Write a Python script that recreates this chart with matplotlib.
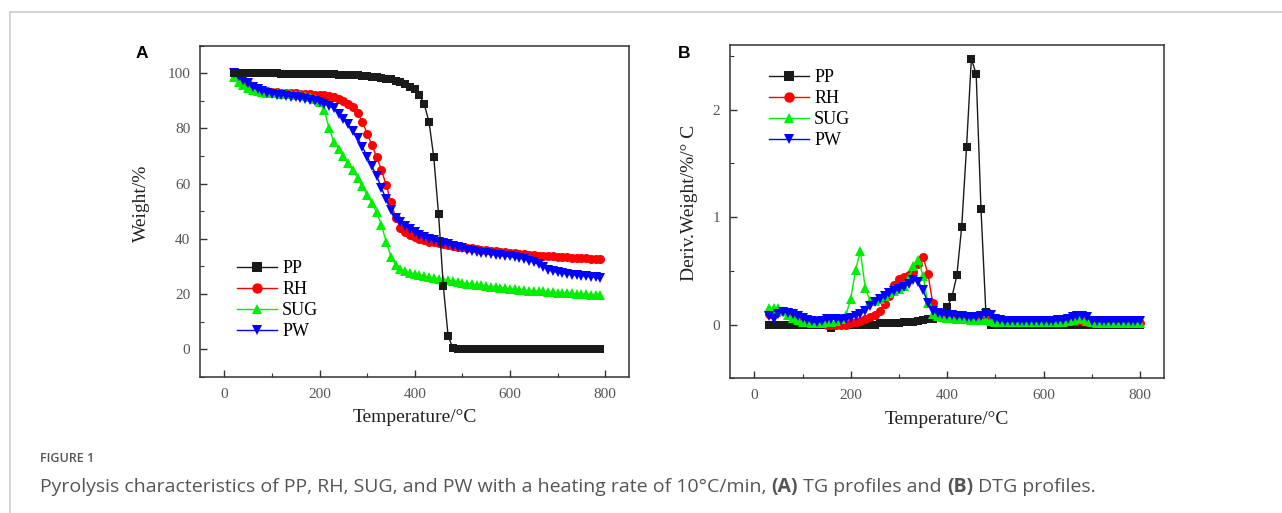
import matplotlib
matplotlib.use("Agg")
import matplotlib.pyplot as plt
from matplotlib.ticker import MultipleLocator
from matplotlib.lines import Line2D

# ---------------- data ----------------
tg_temp = list(range(20, 800, 10))
pp_tg = [100.0, 100.0, 100.0, 100.0, 100.0, 100.0, 100.0, 100.0, 100.0, 100.0,
         99.9, 99.9, 99.9, 99.9, 99.9, 99.8, 99.8, 99.8, 99.7, 99.7,
         99.6, 99.6, 99.5, 99.5, 99.4, 99.3, 99.2, 99.1, 99.0, 98.8,
         98.6, 98.4, 98.1, 97.8, 97.3, 96.7, 96.0, 95.2, 94.2, 92.1,
         88.7, 82.4, 69.5, 49.0, 23.0, 4.9, 0.3, 0.2, 0.2, 0.2,
         0.2, 0.2, 0.2, 0.2, 0.2, 0.2, 0.2, 0.2, 0.2, 0.2,
         0.2, 0.2, 0.2, 0.2, 0.2, 0.2, 0.2, 0.2, 0.2, 0.2,
         0.2, 0.2, 0.2, 0.2, 0.2, 0.2, 0.2, 0.2]
rh_tg = [100.0, 98.6, 97.2, 96.1, 95.2, 94.5, 94.0, 93.6, 93.3, 93.1,
         93.0, 92.9, 92.8, 92.7, 92.6, 92.5, 92.4, 92.3, 92.2, 92.0,
         91.7, 91.3, 90.7, 89.9, 89.0, 87.8, 85.6, 82.5, 78.1, 74.0,
         69.6, 65.0, 59.5, 53.3, 47.6, 44.0, 42.6, 41.4, 40.5, 39.9,
         39.4, 39.0, 38.7, 38.4, 38.1, 37.8, 37.5, 37.2, 37.0, 36.7,
         36.5, 36.3, 36.1, 35.9, 35.7, 35.5, 35.3, 35.1, 34.9, 34.7,
         34.6, 34.4, 34.2, 34.1, 33.9, 33.8, 33.7, 33.6, 33.5, 33.4,
         33.3, 33.2, 33.1, 33.0, 32.9, 32.8, 32.7, 32.6]
sug_tg = [98.5, 96.8, 95.6, 94.7, 94.0, 93.5, 93.2, 93.0, 92.8, 92.7,
          92.6, 92.5, 92.4, 92.3, 92.1, 91.8, 91.4, 90.7, 89.6, 86.6,
          80.2, 75.2, 72.6, 70.0, 67.4, 64.8, 62.0, 59.0, 56.0, 53.0,
          49.6, 45.0, 39.0, 33.5, 30.5, 29.0, 28.2, 27.6, 27.3, 26.9,
          26.5, 26.1, 25.8, 25.5, 25.2, 24.9, 24.6, 24.3, 24.0, 23.7,
          23.5, 23.3, 23.1, 22.9, 22.7, 22.5, 22.3, 22.1, 21.9, 21.7,
          21.5, 21.4, 21.2, 21.1, 21.0, 20.9, 20.7, 20.6, 20.5, 20.4,
          20.3, 20.2, 20.1, 20.0, 19.9, 19.8, 19.8, 19.7]
pw_tg = [100.0, 99.0, 97.6, 96.3, 95.1, 94.2, 93.5, 93.0, 92.6, 92.3,
         92.0, 91.8, 91.5, 91.3, 91.0, 90.7, 90.4, 90.0, 89.6, 89.0,
         88.2, 87.3, 85.4, 83.5, 81.5, 79.2, 76.4, 73.4, 69.8, 66.3,
         62.8, 58.5, 54.4, 50.5, 47.5, 46.0, 44.6, 43.4, 42.4, 41.5,
         40.7, 40.0, 39.4, 38.9, 38.4, 38.0, 37.5, 37.0, 36.5, 36.0,
         35.6, 35.3, 35.0, 34.7, 34.5, 34.3, 34.0, 33.8, 33.6, 33.3,
         33.0, 32.6, 32.1, 31.5, 30.7, 29.8, 28.8, 28.2, 27.8, 27.5,
         27.2, 27.0, 26.8, 26.6, 26.4, 26.2, 26.0, 25.8]

dtg_temp = list(range(30, 810, 10))
pp_dtg = [0.00, 0.00, 0.00, 0.00, 0.00, 0.00, 0.00, 0.00, 0.00, 0.00,
          0.00, 0.00, 0.00, -0.03, 0.00, 0.00, 0.00, 0.00, 0.00, 0.00,
          0.00, 0.00, 0.00, 0.01, 0.01, 0.01, 0.01, 0.01, 0.02, 0.02,
          0.02, 0.03, 0.04, 0.05, 0.05, 0.07, 0.10, 0.16, 0.26, 0.46,
          0.91, 1.65, 2.47, 2.33, 1.07, 0.12, 0.00, 0.00, 0.00, 0.00,
          0.00, 0.00, 0.00, 0.00, 0.00, 0.00, 0.00, 0.00, 0.00, 0.00,
          0.00, 0.00, 0.00, 0.00, 0.00, 0.00, 0.00, 0.00, 0.00, 0.00,
          0.00, 0.00, 0.00, 0.00, 0.00, 0.00, 0.00, 0.00]
rh_dtg = [0.10, 0.10, 0.12, 0.13, 0.11, 0.09, 0.07, 0.05, 0.03, 0.02,
          0.01, 0.01, 0.00, 0.00, 0.00, 0.00, 0.00, 0.01, 0.02, 0.03,
          0.05, 0.07, 0.09, 0.13, 0.19, 0.27, 0.37, 0.42, 0.44, 0.46,
          0.49, 0.56, 0.63, 0.47, 0.20, 0.10, 0.08, 0.07, 0.06, 0.06,
          0.05, 0.05, 0.05, 0.05, 0.04, 0.04, 0.04, 0.04, 0.04, 0.04,
          0.04, 0.04, 0.04, 0.04, 0.04, 0.03, 0.03, 0.03, 0.03, 0.03,
          0.03, 0.03, 0.03, 0.03, 0.03, 0.03, 0.02, 0.02, 0.01, 0.01,
          0.01, 0.01, 0.01, 0.01, 0.01, 0.01, 0.01, 0.01]
sug_dtg = [0.15, 0.15, 0.15, 0.13, 0.09, 0.06, 0.04, 0.02, 0.02, 0.01,
           0.01, 0.01, 0.02, 0.02, 0.03, 0.05, 0.09, 0.24, 0.51, 0.68,
           0.34, 0.22, 0.22, 0.24, 0.27, 0.29, 0.31, 0.33, 0.36, 0.43,
           0.54, 0.60, 0.45, 0.20, 0.10, 0.08, 0.07, 0.06, 0.06, 0.05,
           0.05, 0.05, 0.04, 0.04, 0.04, 0.04, 0.03, 0.02, 0.02, 0.02,
           0.02, 0.02, 0.02, 0.02, 0.02, 0.02, 0.02, 0.02, 0.02, 0.02,
           0.02, 0.02, 0.03, 0.04, 0.05, 0.05, 0.03, 0.02, 0.01, 0.01,
           0.01, 0.01, 0.01, 0.01, 0.01, 0.01, 0.01, 0.01]
pw_dtg = [0.08, 0.05, 0.10, 0.12, 0.11, 0.10, 0.08, 0.06, 0.04, 0.03,
          0.02, 0.03, 0.05, 0.05, 0.05, 0.04, 0.05, 0.06, 0.08, 0.10,
          0.13, 0.17, 0.21, 0.24, 0.27, 0.29, 0.31, 0.33, 0.35, 0.38,
          0.41, 0.40, 0.32, 0.20, 0.13, 0.11, 0.10, 0.09, 0.09, 0.08,
          0.08, 0.07, 0.07, 0.07, 0.08, 0.10, 0.09, 0.05, 0.04, 0.03,
          0.03, 0.03, 0.03, 0.03, 0.03, 0.03, 0.03, 0.03, 0.03, 0.03,
          0.04, 0.04, 0.05, 0.07, 0.08, 0.08, 0.07, 0.03, 0.03, 0.03,
          0.03, 0.03, 0.03, 0.03, 0.03, 0.03, 0.03, 0.03]

series_names = ["PP", "RH", "SUG", "PW"]
colors = ["#1a1a1a", "#ff0000", "#00ee00", "#0000ff"]
markers = ["s", "o", "^", "v"]
x_ticks = [0, 200, 400, 600, 800]
tg_yticks = [0, 20, 40, 60, 80, 100]
dtg_yticks = [0, 1, 2]

# ---------------- figure ----------------
W, H = 1282, 513
fig = plt.figure(figsize=(W / 100, H / 100), dpi=100)

serif = ["Liberation Serif", "DejaVu Serif"]
tick_color = "#555555"
spine_color = "#333333"


def style_axes(ax):
    for s in ax.spines.values():
        s.set_color(spine_color)
        s.set_linewidth(1.1)
    ax.tick_params(which="both", direction="in", top=False, right=False,
                   colors=spine_color, labelcolor=tick_color, labelsize=11)
    ax.tick_params(which="major", length=5, width=1)
    ax.tick_params(which="minor", length=3, width=0.8)
    for lab in ax.get_xticklabels() + ax.get_yticklabels():
        lab.set_family(serif)
    ax.tick_params(axis="x", pad=8)
    ax.tick_params(axis="y", pad=7)


axA_l, axA_t, axA_w, axA_h = 200, 45.7, 429, 331
axB_l, axB_t, axB_w, axB_h = 729.7, 45, 434.6, 333.3
axA = fig.add_axes([axA_l / W, 1 - (axA_t + axA_h) / H, axA_w / W, axA_h / H])
axB = fig.add_axes([axB_l / W, 1 - (axB_t + axB_h) / H, axB_w / W, axB_h / H])

tg_data = [pp_tg, rh_tg, sug_tg, pw_tg]
dtg_data = [pp_dtg, rh_dtg, sug_dtg, pw_dtg]
tg_z = [5, 2, 3, 4]
dtg_z = [2, 3, 4, 5]
msize = [6.0, 6.5, 6.8, 6.8]

for i, name in enumerate(series_names):
    axA.plot(tg_temp, tg_data[i], color=colors[i], marker=markers[i],
             markersize=msize[i], linewidth=1.0, markeredgewidth=0, label=name,
             zorder=tg_z[i])
    axB.plot(dtg_temp, dtg_data[i], color=colors[i], marker=markers[i],
             markersize=msize[i], linewidth=1.0, markeredgewidth=0, label=name,
             zorder=dtg_z[i])

axA.set_xlim(-51, 850)
axA.set_ylim(-10, 110)
axA.set_xticks(x_ticks)
axA.set_yticks(tg_yticks)
axA.xaxis.set_minor_locator(MultipleLocator(100))
axA.yaxis.set_minor_locator(MultipleLocator(10))
style_axes(axA)
axA.set_xlabel("Temperature/°C", family=serif, fontsize=14, color="#222222", labelpad=6)
axA.set_ylabel("Weight/%", family=serif, fontsize=14, color="#222222")
axA.yaxis.set_label_coords((150 - axA_l) / axA_w, (axA_t + axA_h - 203) / axA_h)

axB.set_xlim(-51, 850)
axB.set_ylim(-0.5, 2.6)
axB.set_xticks(x_ticks)
axB.set_yticks(dtg_yticks)
axB.xaxis.set_minor_locator(MultipleLocator(100))
axB.yaxis.set_minor_locator(MultipleLocator(0.5))
style_axes(axB)
axB.set_xlabel("Temperature/°C", family=serif, fontsize=14, color="#222222", labelpad=6)
axB.set_ylabel("Deriv.Weight/%/° C", family=serif, fontsize=14, color="#222222")
axB.yaxis.set_label_coords((698 - axB_l) / axB_w, (axB_t + axB_h - 203) / axB_h)

leg_kw = dict(frameon=False, prop={"family": serif, "size": 13}, handlelength=2.2,
              handletextpad=0.3, labelspacing=0.22, borderaxespad=0.0, borderpad=0.0,
              markerscale=1.15)
axA.legend(loc="upper left",
           bbox_to_anchor=((237 - axA_l) / axA_w, (axA_t + axA_h - 260) / axA_h), **leg_kw)
axB.legend(loc="upper left",
           bbox_to_anchor=((769 - axB_l) / axB_w, (axB_t + axB_h - 69.5) / axB_h), **leg_kw)

# panel letters
fig.text(141.5 / W, 1 - 53 / H, "A", ha="center", va="center",
         family=["Liberation Sans", "DejaVu Sans"], weight="bold", fontsize=12.5)
fig.text(684 / W, 1 - 53 / H, "B", ha="center", va="center",
         family=["Liberation Sans", "DejaVu Sans"], weight="bold", fontsize=12.5)

# border lines
fig.add_artist(Line2D([10 / W, 1.0], [1 - 12 / H, 1 - 12 / H], color="#cccccc", linewidth=1.2))
fig.add_artist(Line2D([10 / W, 10 / W], [1 - 12 / H, 0.0], color="#cccccc", linewidth=1.2))

# caption
cap_font = ["Open Sans", "DejaVu Sans"]
fig.text(40 / W, 1 - 459 / H, "FIGURE 1", ha="left", va="center", family=cap_font,
         fontsize=9, color="#555555", weight="semibold")

pieces = [("Pyrolysis characteristics of PP, RH, SUG, and PW with a heating rate of 10°C/min, ", "normal"),
          ("(A)", "bold"),
          (" TG profiles and ", "normal"),
          ("(B)", "bold"),
          (" DTG profiles.", "normal")]
fig.canvas.draw()
renderer = fig.canvas.get_renderer()
x = 40.0
for txt, wt in pieces:
    t = fig.text(x / W, 1 - 487 / H, txt, ha="left", va="center", family=cap_font,
                 fontsize=14.0, color="#555555", weight=wt)
    bb = t.get_window_extent(renderer=renderer)
    x += bb.width

fig.savefig("out.png", dpi=100, facecolor="white")
